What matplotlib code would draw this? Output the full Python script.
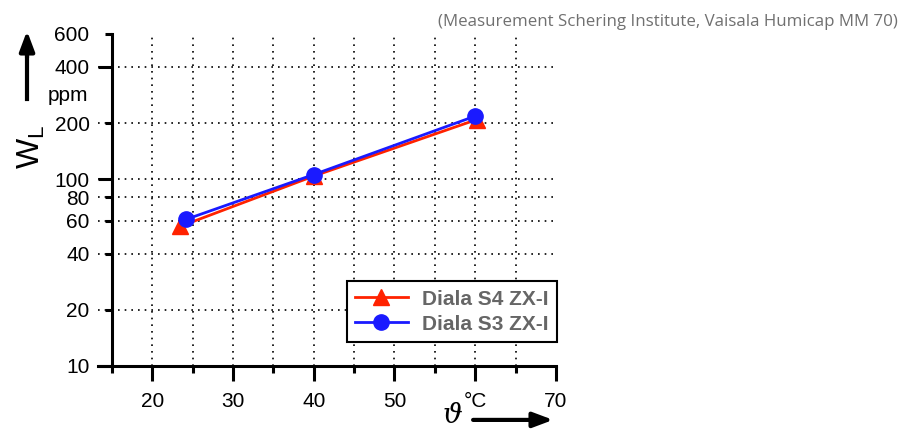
import matplotlib.pyplot as plt
from matplotlib.ticker import FixedLocator, FixedFormatter, NullFormatter

plt.rcParams['font.family'] = ['Liberation Sans', 'DejaVu Sans']
plt.rcParams['mathtext.fontset'] = 'custom'
plt.rcParams['mathtext.rm'] = 'Liberation Sans'
plt.rcParams['mathtext.it'] = 'Liberation Sans'

# data
temp_s4 = [23.5, 40.0, 60.2]
wl_s4 = [56.0, 104.0, 209.0]
temp_s3 = [24.2, 40.0, 60.0]
wl_s3 = [61.0, 106.0, 218.0]

x_major = [20, 30, 40, 50, 60, 70]
x_labels = ['20', '30', '40', '50', '°C', '70']
x_minor = [15, 25, 35, 45, 55, 65]
y_long = [10, 100, 400]
y_long_labels = ['10', '100', '400']
y_short = [20, 40, 60, 80, 200, 600]
y_short_labels = ['20', '40', '60', '80', '200', '600']
y_grid = [20, 40, 60, 80, 100, 200, 400]

fig = plt.figure(figsize=(9.01, 4.32), dpi=100)
ax = fig.add_axes([0.1088, 0.1528, 0.5083, 0.7685])

ax.set_yscale('log')
ax.set_xlim(13.3, 70)
ax.set_ylim(10, 600)

for y in y_grid:
    ax.axhline(y, color='black', lw=1.2, ls=(0, (1, 3)), zorder=1)
for x in x_major[:-1] + x_minor[1:]:
    ax.axvline(x, color='black', lw=1.2, ls=(0, (1, 3)), zorder=1)

ax.plot(temp_s4, wl_s4, color='#ff2200', lw=2, marker='^', ms=11,
        label='Diala S4 ZX-I', zorder=3)
ax.plot(temp_s3, wl_s3, color='#1a1aff', lw=2, marker='o', ms=11,
        label='Diala S3 ZX-I', zorder=4)

for s in ['top', 'right']:
    ax.spines[s].set_visible(False)
ax.spines['left'].set_position(('data', 15))
ax.spines['left'].set_linewidth(2.2)
ax.spines['bottom'].set_linewidth(2.2)

ax.xaxis.set_major_locator(FixedLocator(x_major))
ax.xaxis.set_major_formatter(FixedFormatter(x_labels))
ax.xaxis.set_minor_locator(FixedLocator(x_minor))
ax.xaxis.set_minor_formatter(NullFormatter())
ax.tick_params(axis='x', which='major', length=10.5, width=2.2, labelsize=15, pad=8)
ax.tick_params(axis='x', which='minor', length=5, width=2.2)

ax.yaxis.set_major_locator(FixedLocator(y_long))
ax.yaxis.set_major_formatter(FixedFormatter(y_long_labels))
ax.yaxis.set_minor_locator(FixedLocator(y_short))
ax.yaxis.set_minor_formatter(FixedFormatter(y_short_labels))
ax.tick_params(axis='y', which='major', length=10, width=2.2, labelsize=15, pad=6)
ax.tick_params(axis='y', which='minor', length=5, width=2.2, labelsize=15, pad=11)

leg = ax.legend(loc='lower right', bbox_to_anchor=(1.002, 0.072), borderaxespad=0,
                fancybox=False, edgecolor='black', framealpha=1, handlelength=2.5,
                prop={'family': 'Liberation Sans', 'weight': 'bold', 'size': 15},
                labelcolor='#666666', borderpad=0.4, handletextpad=0.7,
                labelspacing=0.3)
leg.get_frame().set_linewidth(1.5)

# axis labels with arrows
fig.text(0.035, 0.66, r'$W_\mathrm{L}$', rotation=90, fontsize=23,
         ha='center', va='center')
fig.text(0.075, 0.78, 'ppm', fontsize=15, ha='center', va='center')
fig.add_artist(plt.Line2D([0.030, 0.030], [0.77, 0.89], color='black', lw=3,
                          transform=fig.transFigure))
ax.annotate('', xy=(0.030, 0.935), xytext=(0.030, 0.86), xycoords='figure fraction',
            arrowprops=dict(arrowstyle='-|>,head_length=1.2,head_width=0.45',
                            color='black', lw=3))

fig.text(0.502, 0.008, 'ϑ', family='DejaVu Serif', style='italic', fontsize=20,
         ha='center', va='bottom')
ax.annotate('', xy=(0.617, 0.028), xytext=(0.522, 0.028), xycoords='figure fraction',
            arrowprops=dict(arrowstyle='-|>,head_length=1.2,head_width=0.45',
                            color='black', lw=3))

fig.text(0.997, 0.94, '(Measurement Schering Institute, Vaisala Humicap MM 70)',
         ha='right', va='baseline', fontsize=12.2, color='#707070',
         family=['Open Sans', 'DejaVu Sans'])

fig.savefig('out.png', dpi=100)
